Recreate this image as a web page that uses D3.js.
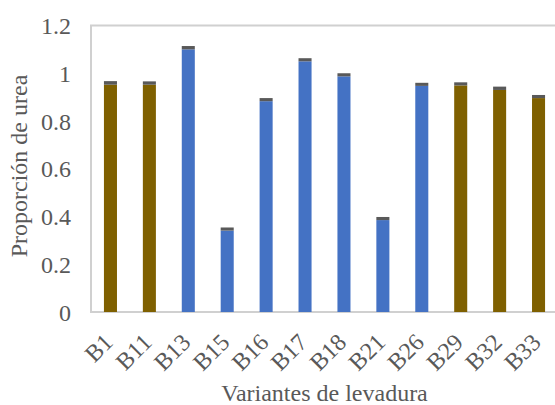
<!DOCTYPE html>
<html>
<head>
<meta charset="utf-8">
<script src="https://cdn.jsdelivr.net/npm/d3@7"></script>
<style>
  html, body { margin: 0; padding: 0; background: #fff; }
  svg { display: block; }
  svg text { font-family: "Liberation Serif", "Times New Roman", Times, "DejaVu Serif", serif !important; fill: #595959; }
</style>
</head>
<body>
<svg id="chart" width="555" height="405"></svg>
<script>
const categories = ["B1","B11","B13","B15","B16","B17","B18","B21","B26","B29","B32","B33"];
const groups     = ["a","a","b","b","b","b","b","b","b","a","a","a"];
const values     = [0.952,0.952,1.100,0.341,0.883,1.050,0.987,0.385,0.947,0.949,0.930,0.896];
const caps       = [0.015,0.014,0.014,0.013,0.013,0.013,0.013,0.013,0.013,0.013,0.014,0.013];
const yTicks     = [0,0.2,0.4,0.6,0.8,1,1.2];
const yTickLabels= ["0","0.2","0.4","0.6","0.8","1","1.2"];

const FONT = '"Liberation Serif", "Times New Roman", Times, "DejaVu Serif", serif';
const svg = d3.select("#chart");
const plot = {left: 91, right: 558, top: 25.5, bottom: 312};

const x = d3.scaleBand().domain(categories).range([plot.left, plot.right])
  .paddingInner(0.665).paddingOuter(0.3325);
const y = d3.scaleLinear().domain([0, 1.2]).range([plot.bottom, plot.top]);
const color = d3.scaleOrdinal().domain(["a","b"]).range(["#7f6000","#4472c4"]);

const data = categories.map((c,i)=>({c, g: groups[i], v: values[i], cap: caps[i]}));

// plot border
svg.append("rect")
  .attr("x", plot.left).attr("y", plot.top)
  .attr("width", plot.right - plot.left).attr("height", plot.bottom - plot.top)
  .attr("fill", "none").attr("stroke", "#d0d0d0").attr("stroke-width", 2);

// bars
svg.append("g").selectAll("rect").data(data).join("rect")
  .attr("x", d => x(d.c)).attr("width", x.bandwidth())
  .attr("y", d => y(d.v)).attr("height", d => y(0) - y(d.v))
  .attr("fill", d => color(d.g));

// caps
svg.append("g").selectAll("rect").data(data).join("rect")
  .attr("x", d => x(d.c)).attr("width", x.bandwidth())
  .attr("y", d => y(d.v + d.cap)).attr("height", d => y(d.v) - y(d.v + d.cap))
  .attr("fill", "#595959");

// y axis
const yAxis = d3.axisLeft(y).tickValues(yTicks).tickFormat((d,i)=>yTickLabels[i]).tickSize(0).tickPadding(0);
const gy = svg.append("g").attr("transform", "translate(71,0)").call(yAxis)
  .attr("font-family", FONT);
gy.select(".domain").remove();
gy.selectAll("text").attr("font-family", FONT).style("font-size","24px").attr("fill","#595959").attr("dy","0.34em");

// x axis
const xAxis = d3.axisBottom(x).tickSize(0).tickPadding(0);
const gx = svg.append("g").attr("transform", `translate(0,${plot.bottom})`).call(xAxis)
  .attr("font-family", FONT);
gx.select(".domain").remove();
gx.selectAll("text")
  .attr("font-family", FONT)
  .style("font-size","24px").attr("fill","#595959")
  .attr("text-anchor","end")
  .attr("y", 0).attr("dy", "0.34em")
  .attr("transform", "translate(-2,26) rotate(-45)");

// titles
svg.append("text").attr("x", (plot.left + plot.right)/2).attr("y", 401)
  .attr("font-family", FONT)
  .attr("text-anchor","middle").style("font-size","24px").text("Variantes de levadura");
svg.append("text").attr("transform", "translate(27,166) rotate(-90)")
  .attr("font-family", FONT)
  .attr("text-anchor","middle").style("font-size","24px").text("Proporción de urea");
</script>
</body>
</html>
